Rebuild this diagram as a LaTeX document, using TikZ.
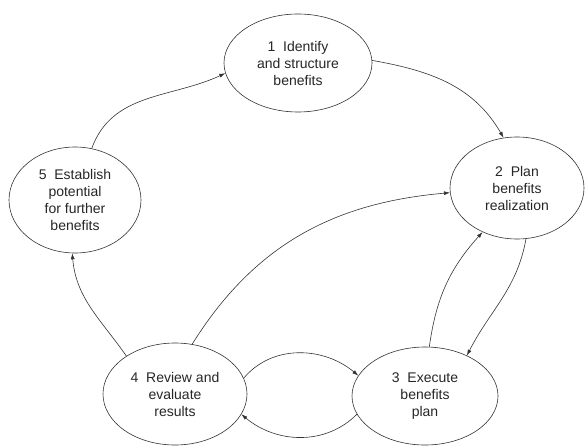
\documentclass[tikz,border=0pt]{standalone}
\usepackage{fontspec}
\setmainfont{Liberation Sans}
\usetikzlibrary{shapes.geometric,arrows.meta}
\tikzset{
  etapa/.style={ellipse, draw=black!80, line width=0.6pt, align=center,
    inner sep=0pt, text=black!85, font=\fontsize{14}{17}\selectfont},
  flecha/.style={draw=black!80, line width=0.6pt, -{Latex[length=6pt,width=4pt]}}
}
\begin{document}
\begin{tikzpicture}[x=1pt,y=1pt]
        \useasboundingbox (0,0) rectangle (585,445);
        % Etapas
        \node[etapa, minimum width=148, minimum height=98] (e1) at (298,382)
            {1~~Identify\\and structure\\benefits};
        \node[etapa, minimum width=134, minimum height=102] (e2) at (517,257)
            {2~~Plan\\benefits\\realization};
        \node[etapa, minimum width=146, minimum height=98] (e3) at (425,49)
            {3~~Execute\\benefits\\plan};
        \node[etapa, minimum width=144, minimum height=102] (e4) at (175,51)
            {4~~Review and\\evaluate\\results};
        \node[etapa, minimum width=132, minimum height=106] (e5) at (75,245)
            {5~~Establish\\potential\\for further\\benefits};

        % Flechas
        \foreach \a/\b/\o/\i in {
            e5.72/e1.188/70/205,
            e1.2/e2.105/-10/120,
            e2.-80/e3.44/-100/63,
            e3.85/e2.232/82/228,
            e4.71/e2.184/58/185,
            e4.13/e3.163/50/140,
            e3.195/e4.343/225/320,
            e4.142/e5.267/125/-85
            } {
            \draw[flecha] (\a) to[out=\o, in=\i] (\b);
        }
    \end{tikzpicture}
\end{document}
